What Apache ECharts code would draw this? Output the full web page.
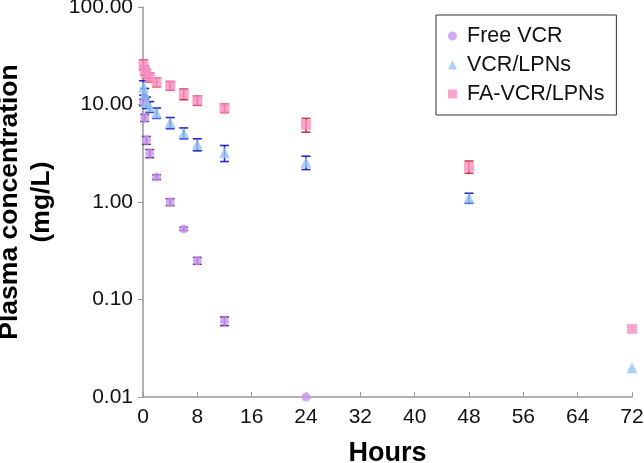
<!DOCTYPE html>
<html>
<head>
<meta charset="utf-8">
<script src="https://cdn.jsdelivr.net/npm/echarts@6/dist/echarts.min.js"></script>
<style>html,body{margin:0;padding:0;background:#fff}#c{width:644px;height:463px}</style>
</head>
<body>
<div id="c"></div>
<script>
const hours = [0.083, 0.25, 0.5, 1, 2, 4, 6, 8, 12, 24, 48, 72];
const xTicks = [0, 8, 16, 24, 32, 40, 48, 56, 64, 72];
const yTicks = [0.01, 0.1, 1, 10, 100];

const freeVCR    = [10.5, 7.3, 4.3, 3.15, 1.8, 1.0, 0.53, 0.25, 0.06, 0.01, null, null];
const freeVCRsd  = [0.8, 0.6, 0.4, 0.3, 0.1, 0.08, 0.02, 0.02, 0.006, 0, null, null];
const vcrLPN     = [15.0, 13.0, 10.5, 9.5, 8.2, 6.5, 5.1, 3.9, 3.2, 2.55, 1.1, 0.02];
const vcrLPNsd   = [2.5, 1.6, 1.4, 1.2, 1.0, 0.85, 0.65, 0.55, 0.6, 0.4, 0.13, 0];
const faVCRLPN   = [25.6, 22.4, 20.7, 19.0, 17.0, 15.6, 12.8, 11.0, 9.2, 6.2, 2.3, 0.05];
const faVCRLPNsd = [3.0, 2.5, 2.2, 2.0, 1.8, 1.6, 1.6, 1.2, 0.95, 1.0, 0.33, 0];

const names = ['Free VCR', 'VCR/LPNs', 'FA-VCR/LPNs'];
const markColors = ['#c795ee', '#93c3f2', '#f78fc0'];
const barColors = ['#6a3585', '#2727c8', '#cc3440'];
const symbols = ['circle', 'triangle', 'rect'];
const sizes = [9, 11, 10];
const means = [freeVCR, vcrLPN, faVCRLPN];
const sds = [freeVCRsd, vcrLPNsd, faVCRLPNsd];

function pts(m) {
  const out = [];
  hours.forEach((h, i) => { if (m[i] != null) out.push([h, m[i]]); });
  return out;
}
function errs(m, s) {
  const out = [];
  hours.forEach((h, i) => {
    if (m[i] != null && s[i] > 0) out.push([h, Math.max(m[i] - s[i], 0.0101), m[i] + s[i]]);
  });
  return out;
}

const series = [];
means.forEach((m, k) => {
  series.push({
    type: 'custom',
    silent: true,
    z: 2,
    data: errs(m, sds[k]),
    renderItem: function (params, api) {
      const x = api.value(0);
      const lo = api.coord([x, api.value(1)]);
      const hi = api.coord([x, api.value(2)]);
      const w = 4.5;
      const st = { stroke: barColors[k], lineWidth: 1.6 };
      return {
        type: 'group',
        children: [
          { type: 'line', shape: { x1: lo[0], y1: lo[1], x2: hi[0], y2: hi[1] }, style: st },
          { type: 'line', shape: { x1: lo[0] - w, y1: lo[1], x2: lo[0] + w, y2: lo[1] }, style: st },
          { type: 'line', shape: { x1: hi[0] - w, y1: hi[1], x2: hi[0] + w, y2: hi[1] }, style: st }
        ]
      };
    }
  });
});
means.forEach((m, k) => {
  series.push({
    name: names[k],
    type: 'scatter',
    z: 3,
    symbol: symbols[k],
    symbolSize: sizes[k],
    itemStyle: { color: markColors[k] },
    data: pts(m)
  });
});

const chart = echarts.init(document.getElementById('c'), null, { renderer: 'canvas' });
chart.setOption({
  animation: false,
  backgroundColor: '#ffffff',
  textStyle: { fontFamily: 'Liberation Sans, Arial, sans-serif' },
  grid: { left: 143, right: 12, top: 7, bottom: 66, outerBoundsMode: 'none' },
  legend: {
    data: names.map((n, k) => ({ name: n, icon: symbols[k] })),
    orient: 'vertical',
    left: 436,
    top: 15,
    itemWidth: 9,
    itemHeight: 9,
    itemGap: 7,
    padding: [10, 12, 10, 12],
    borderColor: '#333',
    borderWidth: 1,
    borderRadius: 0,
    textStyle: { fontSize: 21.5, color: '#111', padding: [0, 0, 0, 5], fontFamily: 'Liberation Sans, Arial, sans-serif' }
  },
  xAxis: {
    type: 'value',
    min: 0,
    max: 72,
    interval: 8,
    name: 'Hours',
    nameLocation: 'middle',
    nameGap: 43,
    nameTextStyle: { fontSize: 27, fontWeight: 'bold', color: '#000' },
    axisLine: { lineStyle: { color: '#999', width: 1.5 } },
    axisTick: { inside: true, length: 5, lineStyle: { color: '#999' } },
    axisLabel: { fontSize: 21, color: '#111', margin: 10,
      formatter: v => xTicks.includes(v) ? String(v) : '' },
    splitLine: { show: false }
  },
  yAxis: {
    type: 'log',
    logBase: 10,
    min: yTicks[0],
    max: yTicks[yTicks.length - 1],
    name: 'Plasma concentration\n(mg/L)',
    nameLocation: 'middle',
    nameGap: 80,
    nameTextStyle: { fontSize: 26.5, fontWeight: 'bold', color: '#000', lineHeight: 32 },
    axisLine: { show: true, lineStyle: { color: '#999', width: 1.5 } },
    axisTick: { show: true, inside: false, length: 5, lineStyle: { color: '#999' } },
    minorTick: { show: false },
    axisLabel: { fontSize: 21, color: '#111', margin: 10, formatter: v => Number(v).toFixed(2) },
    splitLine: { show: false }
  },
  series: series
});
</script>
</body>
</html>
